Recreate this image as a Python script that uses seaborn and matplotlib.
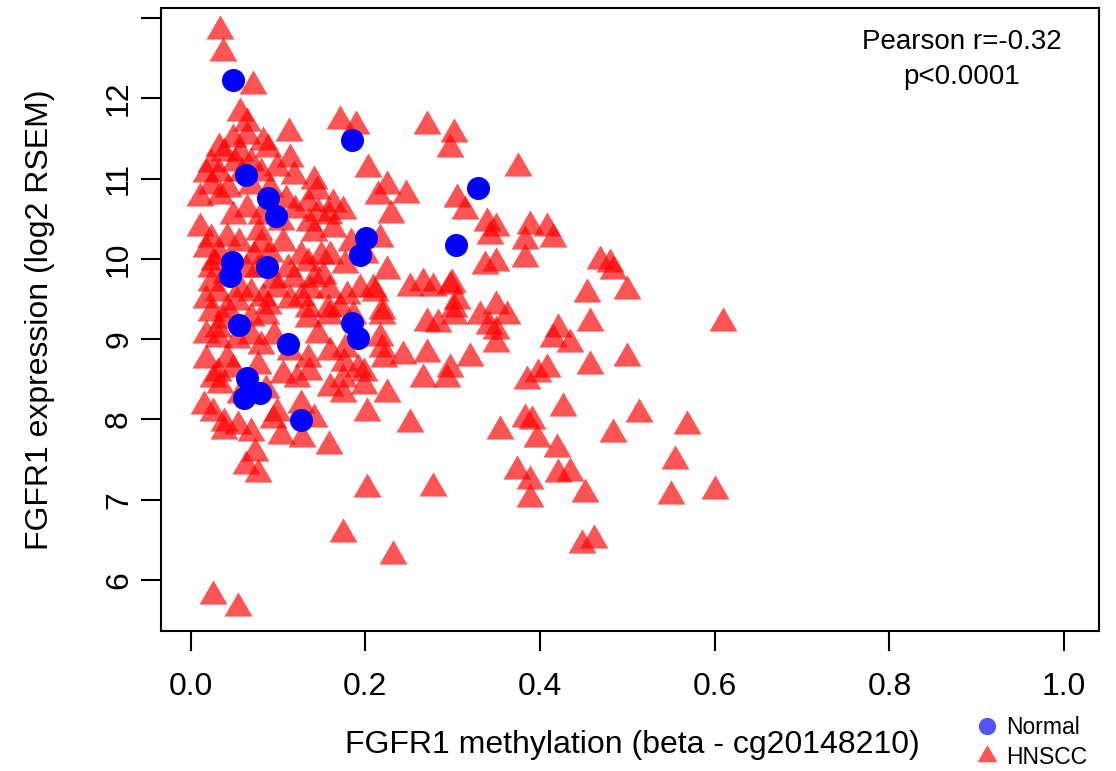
import matplotlib
matplotlib.use("Agg")
import matplotlib.pyplot as plt
from matplotlib.lines import Line2D
import numpy as np
import pandas as pd
import seaborn as sns

# FGFR1 promoter methylation (beta, probe cg20148210) vs FGFR1 expression (log2 RSEM)
hnscc_beta = [
    0.034, 0.037, 0.071, 0.057, 0.065, 0.112, 0.032, 0.048, 0.064, 0.083,
    0.089, 0.038, 0.057, 0.114, 0.023, 0.051, 0.069, 0.099, 0.018, 0.032,
    0.059, 0.080, 0.118, 0.141, 0.023, 0.043, 0.069, 0.091, 0.034, 0.011,
    0.145, 0.163, 0.174, 0.134, 0.065, 0.048, 0.080, 0.146, 0.158, 0.135,
    0.141, 0.163, 0.106, 0.023, 0.042, 0.055, 0.080, 0.017, 0.034, 0.072,
    0.091, 0.126, 0.134, 0.149, 0.160, 0.023, 0.063, 0.077, 0.111, 0.118,
    0.141, 0.152, 0.023, 0.031, 0.057, 0.069, 0.083, 0.099, 0.126, 0.134,
    0.157, 0.171, 0.088, 0.042, 0.023, 0.179, 0.194, 0.209, 0.225, 0.217,
    0.203, 0.225, 0.214, 0.171, 0.189, 0.271, 0.301, 0.297, 0.251, 0.266,
    0.278, 0.297, 0.301, 0.031, 0.086, 0.134, 0.158, 0.186, 0.219, 0.271,
    0.283, 0.301, 0.031, 0.069, 0.095, 0.080, 0.134, 0.217, 0.177, 0.219,
    0.042, 0.031, 0.049, 0.077, 0.175, 0.191, 0.221, 0.243, 0.271, 0.297,
    0.026, 0.122, 0.174, 0.198, 0.266, 0.294, 0.015, 0.025, 0.099, 0.160,
    0.174, 0.198, 0.225, 0.202, 0.038, 0.054, 0.141, 0.251, 0.069, 0.038,
    0.103, 0.128, 0.158, 0.074, 0.063, 0.077, 0.202, 0.278, 0.174, 0.232,
    0.026, 0.054, 0.375, 0.305, 0.314, 0.339, 0.349, 0.343, 0.389, 0.408,
    0.415, 0.383, 0.383, 0.337, 0.349, 0.469, 0.480, 0.483, 0.499, 0.454,
    0.299, 0.305, 0.457, 0.609, 0.331, 0.349, 0.362, 0.341, 0.349, 0.349,
    0.421, 0.415, 0.434, 0.320, 0.457, 0.499, 0.385, 0.398, 0.408, 0.426,
    0.354, 0.383, 0.391, 0.397, 0.419, 0.513, 0.483, 0.568, 0.374, 0.389,
    0.421, 0.434, 0.389, 0.451, 0.555, 0.550, 0.600, 0.448, 0.462, 0.211,
    0.219, 0.011, 0.027, 0.040, 0.017, 0.053, 0.069, 0.037, 0.017, 0.053,
    0.017, 0.034, 0.057, 0.086, 0.106, 0.094, 0.126, 0.078, 0.103, 0.120,
    0.109, 0.095, 0.114, 0.137, 0.158, 0.146, 0.160, 0.135, 0.114, 0.177,
    0.200, 0.183, 0.229, 0.246,
]
hnscc_expr = [
    12.84, 12.56, 12.15, 11.82, 11.69, 11.57, 11.38, 11.49, 11.53, 11.45,
    11.37, 11.32, 11.32, 11.24, 11.18, 11.19, 11.19, 11.13, 11.06, 11.07,
    11.07, 11.07, 11.03, 10.97, 10.91, 10.87, 10.91, 10.87, 10.78, 10.76,
    10.84, 10.68, 10.60, 10.69, 10.62, 10.53, 10.53, 10.57, 10.53, 10.45,
    10.32, 10.37, 10.20, 10.25, 10.26, 10.20, 10.18, 10.12, 10.03, 10.03,
    10.06, 10.03, 9.95, 10.03, 10.03, 9.87, 9.87, 9.87, 9.87, 9.75,
    9.75, 9.79, 9.70, 9.57, 9.62, 9.57, 9.51, 9.62, 9.51, 9.37,
    9.37, 9.39, 9.41, 9.37, 9.33, 9.54, 9.62, 9.62, 9.85, 10.25,
    11.12, 10.91, 10.78, 11.72, 11.65, 11.65, 11.55, 11.37, 9.64, 9.70,
    9.64, 9.66, 9.37, 9.13, 9.29, 9.25, 9.29, 9.29, 9.29, 9.20,
    9.19, 9.29, 9.00, 9.04, 9.04, 8.91, 8.75, 9.01, 8.88, 8.88,
    8.75, 8.58, 8.63, 8.67, 8.70, 8.63, 8.75, 8.79, 8.81, 8.63,
    8.50, 8.50, 8.50, 8.58, 8.50, 8.50, 8.17, 8.08, 8.08, 8.39,
    8.32, 8.42, 8.32, 8.08, 7.96, 7.92, 8.00, 7.94, 7.83, 7.86,
    7.79, 7.76, 7.67, 7.58, 7.42, 7.32, 7.13, 7.15, 6.57, 6.30,
    5.80, 5.65, 11.13, 10.74, 10.60, 10.45, 10.38, 10.28, 10.41, 10.38,
    10.25, 10.22, 10.00, 9.91, 9.95, 9.97, 9.94, 9.85, 9.60, 9.56,
    9.69, 9.47, 9.20, 9.20, 9.29, 9.41, 9.29, 9.16, 9.10, 8.94,
    9.13, 9.00, 8.94, 8.77, 8.67, 8.77, 8.48, 8.57, 8.63, 8.14,
    7.86, 8.00, 7.98, 7.76, 7.63, 8.07, 7.82, 7.92, 7.36, 7.23,
    7.32, 7.33, 7.01, 7.07, 7.48, 7.05, 7.11, 6.44, 6.50, 9.57,
    9.35, 10.38, 9.96, 9.80, 9.49, 9.46, 9.26, 9.24, 9.05, 8.99,
    8.74, 8.43, 8.30, 8.37, 8.55, 7.99, 8.18, 10.33, 10.46, 10.61,
    10.73, 9.74, 9.49, 9.61, 9.61, 9.05, 8.84, 8.59, 8.84, 9.92,
    10.05, 10.20, 10.55, 10.79,
]
normal_beta = [
    0.048, 0.185, 0.063, 0.089, 0.098, 0.329, 0.201, 0.194, 0.304, 0.047,
    0.045, 0.087, 0.055, 0.111, 0.185, 0.192, 0.064, 0.079, 0.061, 0.126,
]
normal_expr = [
    12.23, 11.48, 11.04, 10.76, 10.53, 10.88, 10.26, 10.05, 10.17, 9.96,
    9.79, 9.90, 9.18, 8.94, 9.20, 9.01, 8.52, 8.33, 8.27, 7.99,
]

group_labels = ["Normal", "HNSCC"]
x_ticks = [0.0, 0.2, 0.4, 0.6, 0.8, 1.0]
y_ticks = [6, 7, 8, 9, 10, 11, 12, 13]
y_tick_labels = ["6", "7", "8", "9", "10", "11", "12", ""]
stat_lines = ["Pearson r=-0.32", "p<0.0001"]

tumor = pd.DataFrame({"beta": hnscc_beta, "expr": hnscc_expr})
normal = pd.DataFrame({"beta": normal_beta, "expr": normal_expr})

sns.set_theme(style="white")
plt.rcParams["font.family"] = ["Liberation Sans", "DejaVu Sans"]
plt.rcParams["text.color"] = "black"

# equilateral triangle centred on its centroid (like R's pch 17)
tri = [(-1.0, -0.577), (1.0, -0.577), (0.0, 1.155)]

fig = plt.figure(figsize=(11.16, 7.71), dpi=100)
ax = fig.add_axes([161 / 1116, 1 - 631 / 771, (1099 - 161) / 1116, (631 - 8) / 771])

sns.scatterplot(data=tumor, x="beta", y="expr", marker=tri, s=540,
                color="#FF0000", alpha=0.67, linewidth=0, ax=ax, zorder=2)
sns.scatterplot(data=normal, x="beta", y="expr", marker="o", s=275,
                color="#0000FF", alpha=1.0, linewidth=0, ax=ax, zorder=3)

ax.set_xlim(-0.034, 1.04)
ax.set_ylim(5.365, 13.125)

ax.set_xticks(x_ticks)
ax.set_xticklabels([f"{v:.1f}" for v in x_ticks])
ax.set_yticks(y_ticks)
ax.set_yticklabels(y_tick_labels, rotation=90, va="center")

for sp in ax.spines.values():
    sp.set_color("black")
    sp.set_linewidth(1.5)
    sp.set_visible(True)

ax.tick_params(axis="both", which="major", direction="out", length=14.4,
               width=1.5, color="black", labelsize=23, labelcolor="black",
               bottom=True, left=True)
ax.tick_params(axis="x", pad=15)
ax.tick_params(axis="y", pad=5)

ax.set_xlabel("FGFR1 methylation (beta - cg20148210)", fontsize=23,
              color="black", va="center")
ax.set_ylabel("FGFR1 expression (log2 RSEM)", fontsize=23, color="black",
              va="center")
ax.xaxis.set_label_coords(0.502, -0.183)
ax.yaxis.set_label_coords(-0.129, 0.5)

ax.text(0.854, 0.946, stat_lines[0], transform=ax.transAxes, ha="center",
        va="center", fontsize=20, color="black")
ax.text(0.854, 0.890, stat_lines[1], transform=ax.transAxes, ha="center",
        va="center", fontsize=20, color="black")

handles = [
    Line2D([], [], marker="o", linestyle="none", markersize=12.5,
           markerfacecolor="#0000FF", markeredgewidth=0, alpha=0.67),
    Line2D([], [], marker=tri, linestyle="none", markersize=16.5,
           markerfacecolor="#FF0000", markeredgewidth=0, alpha=0.67),
]
ax.legend(handles, group_labels, loc="upper left",
          bbox_to_anchor=(976 / 1116, 1 - 716 / 771),
          bbox_transform=fig.transFigure, frameon=False, fontsize=16.5,
          labelcolor="black", borderpad=0, borderaxespad=0, handlelength=1.0,
          handletextpad=0.3, labelspacing=0.3)

fig.savefig("out.png", dpi=100)
